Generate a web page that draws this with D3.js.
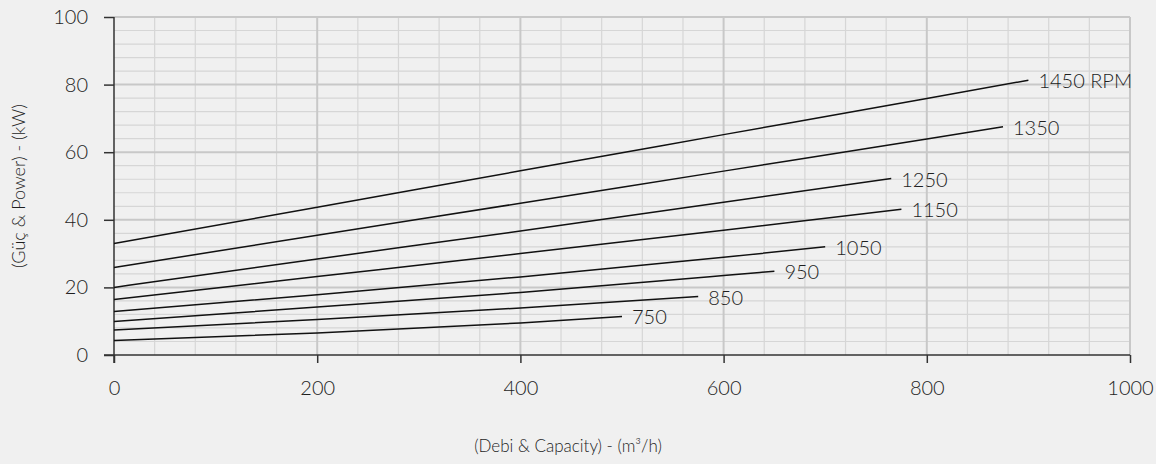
<!DOCTYPE html>
<html>
<head>
<meta charset="utf-8">
<script src="https://cdn.jsdelivr.net/npm/d3@7"></script>
<style>
  html, body { margin: 0; padding: 0; background: #f0f0f0; }
  svg { display: block; }
  text { font-family: Lato, "Open Sans", sans-serif; fill: #1e1e1e; font-weight: 300; }
</style>
</head>
<body>
<svg id="chart" width="1156" height="464"></svg>
<script>
// ---- data ----
const rpmLabels = ["1450 RPM", "1350", "1250", "1150", "1050", "950", "850", "750"];
const flow1450 = [0, 200, 400, 600, 800, 900];
const power1450 = [33.0, 43.7, 54.5, 65.2, 75.9, 81.3];
const flow1350 = [0, 200, 400, 600, 800, 875];
const power1350 = [25.9, 35.4, 44.9, 54.4, 63.9, 67.5];
const flow1250 = [0, 200, 400, 600, 765];
const power1250 = [20.0, 28.4, 36.7, 45.2, 52.2];
const flow1150 = [0, 200, 400, 600, 775];
const power1150 = [16.4, 23.2, 30.0, 36.9, 43.1];
const flow1050 = [0, 200, 400, 600, 700];
const power1050 = [12.9, 17.8, 23.1, 28.9, 32.0];
const flow950 = [0, 200, 400, 600, 650];
const power950 = [9.9, 14.2, 18.5, 23.5, 24.8];
const flow850 = [0, 200, 400, 575];
const power850 = [7.4, 10.5, 13.9, 17.3];
const flow750 = [0, 200, 400, 500];
const power750 = [4.3, 6.5, 9.5, 11.4];

const xTicks = [0, 200, 400, 600, 800, 1000];
const yTicks = [0, 20, 40, 60, 80, 100];
const xMinorStep = 40;
const yMinorStep = 4;
const xTitle = "(Debi & Capacity) - (m³/h)";
const yTitle = "(Güç & Power) - (kW)";

const flows = [flow1450, flow1350, flow1250, flow1150, flow1050, flow950, flow850, flow750];
const powers = [power1450, power1350, power1250, power1150, power1050, power950, power850, power750];
const series = rpmLabels.map((name, i) => ({
  name, pts: flows[i].map((f, j) => [f, powers[i][j]])
}));

// ---- layout ----
const svg = d3.select("#chart");
const x = d3.scaleLinear().domain([0, 1000]).range([114, 1130]);
const y = d3.scaleLinear().domain([0, 100]).range([355, 17]);

// minor grid
const xMinor = d3.range(0, 1000 + 1e-9, xMinorStep).filter(v => !xTicks.includes(v));
const yMinor = d3.range(0, 100 + 1e-9, yMinorStep).filter(v => !yTicks.includes(v));
const grid = svg.append("g");
grid.selectAll(".vmin").data(xMinor).join("line")
  .attr("x1", d => x(d)).attr("x2", d => x(d)).attr("y1", y(0)).attr("y2", y(100))
  .attr("stroke", "#d6d6d6").attr("stroke-width", 1.2);
grid.selectAll(".hmin").data(yMinor).join("line")
  .attr("x1", x(0)).attr("x2", x(1000)).attr("y1", d => y(d)).attr("y2", d => y(d))
  .attr("stroke", "#d6d6d6").attr("stroke-width", 1.2);
// major grid
grid.selectAll(".vmaj").data(xTicks.filter(d => d > 0)).join("line")
  .attr("x1", d => x(d)).attr("x2", d => x(d)).attr("y1", y(0)).attr("y2", y(100))
  .attr("stroke", "#c8c8c8").attr("stroke-width", 2);
grid.selectAll(".hmaj").data(yTicks.filter(d => d > 0)).join("line")
  .attr("x1", x(0)).attr("x2", x(1000)).attr("y1", d => y(d)).attr("y2", d => y(d))
  .attr("stroke", "#c8c8c8").attr("stroke-width", 2);

// axes
const fmt = d3.format("d");
const xAxis = d3.axisBottom(x).tickValues(xTicks).tickFormat(fmt).tickSize(8).tickSizeOuter(0).tickPadding(18);
const yAxis = d3.axisLeft(y).tickValues(yTicks).tickFormat(fmt).tickSize(10).tickSizeOuter(0).tickPadding(16);
const gx = svg.append("g").attr("transform", `translate(0,${y(0)})`).call(xAxis);
const gy = svg.append("g").attr("transform", `translate(${x(0)},0)`).call(yAxis);
[gx, gy].forEach(g => {
  g.select(".domain").attr("stroke", "#333").attr("stroke-width", 1.5);
  g.selectAll(".tick line").attr("stroke", "#333").attr("stroke-width", 1.5);
  g.selectAll(".tick text").attr("font-size", 20).attr("font-family", "Lato, sans-serif")
    .attr("font-weight", 300).attr("fill", "#1e1e1e");
});
gx.select(".domain").attr("d", `M${x(0) - 10},0H${x(1000)}`);
gy.select(".domain").attr("d", `M0,${y(0) + 8}V${y(100)}`);

// curves
const line = d3.line().x(d => x(d[0])).y(d => y(d[1])).curve(d3.curveMonotoneX);
svg.append("g").selectAll("path").data(series).join("path")
  .attr("d", d => line(d.pts))
  .attr("fill", "none").attr("stroke", "#111").attr("stroke-width", 1.5);

// labels
svg.append("g").selectAll("text").data(series).join("text")
  .attr("x", d => x(d.pts[d.pts.length - 1][0]) + 10)
  .attr("y", d => y(d.pts[d.pts.length - 1][1]))
  .attr("dy", "0.4em")
  .attr("font-size", 20)
  .text(d => d.name);

// titles
svg.append("text").attr("x", 568).attr("y", 452).attr("text-anchor", "middle")
  .attr("font-size", 17).text(xTitle);
svg.append("text").attr("transform", `translate(25,${(y(0) + y(100)) / 2}) rotate(-90)`)
  .attr("text-anchor", "middle").attr("font-size", 18).text(yTitle);
</script>
</body>
</html>
